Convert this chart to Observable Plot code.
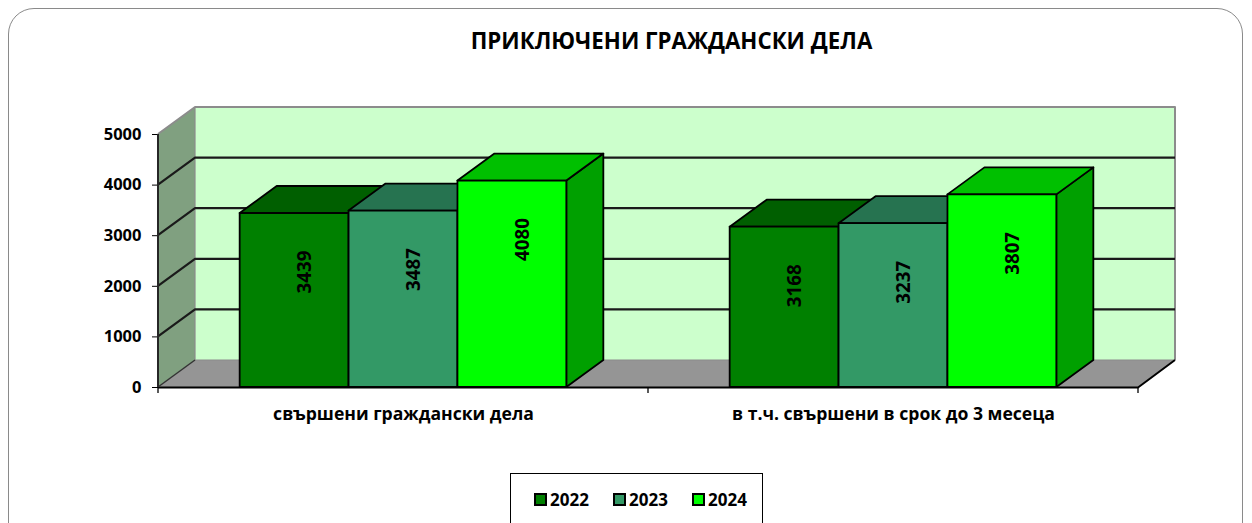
<!DOCTYPE html>
<html>
<head>
<meta charset="utf-8">
<script src="https://cdn.jsdelivr.net/npm/d3@7"></script>
<script src="https://cdn.jsdelivr.net/npm/@observablehq/plot@0.6"></script>
<style>
  html, body { margin: 0; padding: 0; background: #fff; }
  #wrap { position: relative; width: 1252px; height: 523px; overflow: hidden; font-family: "Open Sans", sans-serif; }
  #frame { position: absolute; left: 8px; top: 8px; width: 1235px; height: 560px; border: 1.5px solid #8a8a8a; border-radius: 26px; box-sizing: border-box; }
  #title { position: absolute; left: 0; top: 27px; width: 1343px; text-align: center; font-weight: 700; font-size: 22.3px; color: #000; line-height: 28px; }
  #chart { position: absolute; left: 0; top: 70px; }
  #chart g[aria-label^="x-axis"] text { font-size: 17.6px; }
  #legend { position: absolute; left: 510px; top: 473px; width: 253px; height: 70px; border: 1.3px solid #000; box-sizing: border-box; }
  .item { position: absolute; top: 12px; height: 26px; display: flex; align-items: center; font-weight: 700; font-size: 17px; }
  .sw { width: 13px; height: 13px; border: 2px solid #000; box-sizing: border-box; margin-right: 3px; }
</style>
</head>
<body>
<div id="wrap">
  <div id="frame"></div>
  <div id="title"></div>
  <div id="chart"></div>
  <div id="legend"></div>
</div>
<script>
// ---- data ----
const chartTitle = "ПРИКЛЮЧЕНИ ГРАЖДАНСКИ ДЕЛА";
const categories = ["свършени граждански дела", "в т.ч. свършени в срок до 3 месеца"];
const years = ["2022", "2023", "2024"];
const values2022 = [3439, 3168];
const values2023 = [3487, 3237];
const values2024 = [4080, 3807];
const yTicks = [0, 1000, 2000, 3000, 4000, 5000];

// ---- styles ----
const frontColors = ["#008000", "#339966", "#00FF00"];
const topColors = ["#005f00", "#267350", "#00C000"];
const sideColors = ["#004c00", "#1f5e40", "#00A000"];
const DX = 37, DY = -27;

const series = [values2022, values2023, values2024];
const rows = [];
categories.forEach((c, ci) => years.forEach((yr, yi) => rows.push({category: c, year: yr, yi, value: series[yi][ci]})));

document.getElementById("title").textContent = chartTitle;

function threeD(index, scales, values, dims) {
  const x = scales.x, y = scales.y;
  const X0 = dims.marginLeft, X1 = dims.width - dims.marginRight;
  const Y0 = y(0), YT = y(yTicks[yTicks.length - 1]);
  const g = d3.create("svg:g");
  const pts = a => a.map(p => p.join(",")).join(" ");
  const poly = (a, fill, stroke, sw) => g.append("polygon").attr("points", pts(a)).attr("fill", fill)
      .attr("stroke", stroke || "none").attr("stroke-width", sw || 0).attr("stroke-linejoin", "round");
  const line = (a, stroke, sw) => g.append("polyline").attr("points", pts(a)).attr("fill", "none")
      .attr("stroke", stroke).attr("stroke-width", sw).attr("stroke-linejoin", "round");

  // walls and floor
  poly([[X0, Y0], [X0, YT], [X0 + DX, YT + DY], [X0 + DX, Y0 + DY]], "#80a080");
  poly([[X0 + DX, YT + DY], [X1 + DX, YT + DY], [X1 + DX, Y0 + DY], [X0 + DX, Y0 + DY]], "#ccffcc");
  poly([[X0, Y0], [X1, Y0], [X1 + DX, Y0 + DY], [X0 + DX, Y0 + DY]], "#959595");
  // wall outlines (gray)
  line([[X0, YT], [X0 + DX, YT + DY], [X1 + DX, YT + DY], [X1 + DX, Y0 + DY]], "#8c8c8c", 2);
  line([[X0 + DX, YT + DY], [X0 + DX, Y0 + DY], [X1 + DX, Y0 + DY]], "#8c8c8c", 1.2);
  // gridlines
  yTicks.slice(1, -1).forEach(t => {
    const yy = y(t);
    line([[X0, yy], [X0 + DX, yy + DY], [X1 + DX, yy + DY]], "#1a1a1a", 2.2);
  });
  // floor edges & axis line
  line([[X0, Y0 + 0.5], [X1, Y0 + 0.5], [X1 + DX, Y0 + DY]], "#000", 2);
  line([[X0, Y0], [X0 + DX, Y0 + DY]], "#333", 1.5);
  line([[X0, YT], [X0, Y0]], "#262626", 2);
  // x tick marks at category boundaries
  const bw = x.bandwidth ? x.bandwidth() : (X1 - X0) / categories.length;
  const bounds = categories.map(c => x(c)).concat([x(categories[categories.length - 1]) + bw]);
  bounds.forEach(b => line([[b, Y0], [b, Y0 + 6]], "#000", 1.3));

  // bars
  const w = bw / (years.length + 1.5);
  rows.forEach(r => {
    const bx0 = x(r.category) + 0.75 * w + r.yi * w, bx1 = bx0 + w;
    const top = y(r.value);
    poly([[bx1, top], [bx1, Y0], [bx1 + DX, Y0 + DY], [bx1 + DX, top + DY]], sideColors[r.yi], "#000", 1.8);
    poly([[bx0, top], [bx1, top], [bx1 + DX, top + DY], [bx0 + DX, top + DY]], topColors[r.yi], "#000", 1.8);
    poly([[bx0, top], [bx1, top], [bx1, Y0], [bx0, Y0]], frontColors[r.yi], "#000", 1.8);
  });
  // value labels
  rows.forEach(r => {
    const cx = x(r.category) + 0.75 * w + r.yi * w + w / 2 + 10;
    const cy = y(r.value) + 59;
    g.append("text").attr("transform", `translate(${cx},${cy}) rotate(-90)`)
      .attr("text-anchor", "middle").attr("dy", "0.36em")
      .attr("font-size", 18.8).attr("font-weight", 700).attr("fill", "#000")
      .text(r.value);
  });
  return g.node();
}

const svg = Plot.plot({
  width: 1252,
  height: 380,
  marginLeft: 158,
  marginRight: 114,
  marginTop: 64,
  marginBottom: 63,
  style: {fontFamily: "Open Sans, sans-serif", fontSize: "16.5px", fontWeight: "bold", color: "#000", background: "transparent", overflow: "visible"},
  x: {type: "band", domain: categories, padding: 0, tickSize: 0, tickPadding: 20, label: null},
  y: {type: "linear", domain: [yTicks[0], yTicks[yTicks.length - 1]], ticks: yTicks, tickFormat: "d", tickSize: 6, tickPadding: 11, label: null},
  marks: [threeD]
});
document.getElementById("chart").appendChild(svg);

// legend
const legend = document.getElementById("legend");
years.forEach((yr, i) => {
  const it = document.createElement("div");
  it.className = "item";
  it.style.left = (23 + i * 79) + "px";
  const sw = document.createElement("div");
  sw.className = "sw";
  sw.style.background = frontColors[i];
  const tx = document.createElement("span");
  tx.textContent = yr;
  it.appendChild(sw); it.appendChild(tx);
  legend.appendChild(it);
});
</script>
</body>
</html>
